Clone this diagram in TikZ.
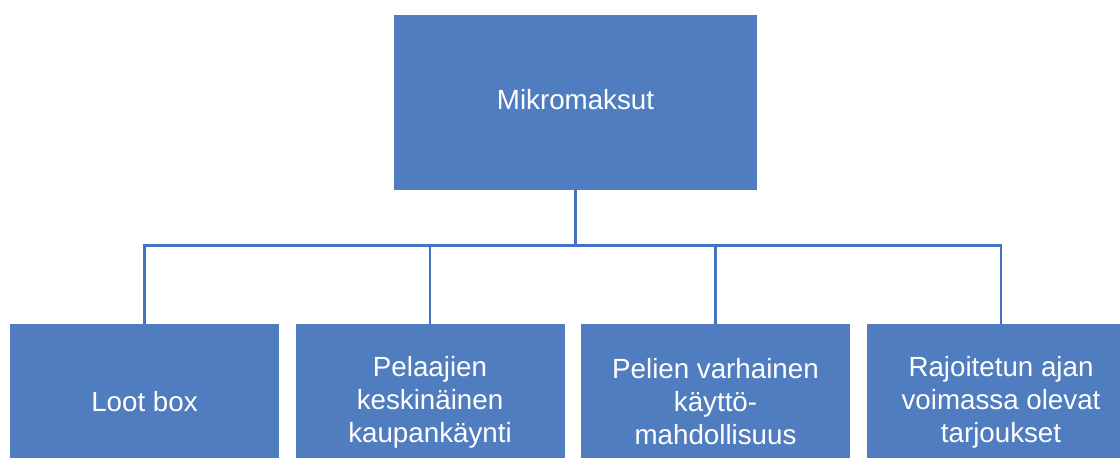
\documentclass[tikz,border=0pt]{standalone}
\usepackage{fontspec}
\setmainfont{Liberation Sans}
\usepackage{xcolor}
\usetikzlibrary{positioning}
\definecolor{laatikko}{HTML}{4F7DBF}
\definecolor{viiva}{HTML}{4472C4}
\tikzset{
  ylin/.style={fill=laatikko,draw=none,text=white,inner sep=0pt,
    minimum width=272.25pt,minimum height=131.25pt,align=center,
    font=\fontsize{20.8}{24.8}\selectfont},
  ala/.style={fill=laatikko,draw=none,text=white,inner sep=0pt,
    minimum width=201.75pt,minimum height=117pt,align=center,
    font=\fontsize{20.8}{24.8}\selectfont},
  haara/.style={draw=viiva,line width=2pt}
}
\begin{document}
\begin{tikzpicture}[x=0.75pt,y=-0.75pt]
\clip (0,0) rectangle (1120,457);
% paalaatikko
\node[ylin] (mikro) at (575.5,102.5) {Mikromaksut\vphantom{g}};
% alalaatikot
\node[ala] (loot) at (144.5,402) {Loot box};
\node[ala] (kauppa) at (430,402) {Pelaajien\\keskinäinen\\kaupankäynti};
\node[ala] (varhainen) at (715.5,402) {Pelien varhainen\\käyttö-\\mahdollisuus};
\node[ala] (tarjous) at (1001,402) {Rajoitetun ajan\\voimassa olevat\\tarjoukset};
% yhteydet
\foreach \lapsi in {loot,kauppa,varhainen,tarjous}
  \draw[haara] (mikro.south) -- ++(0,55) -| (\lapsi.north);
\end{tikzpicture}
\end{document}
